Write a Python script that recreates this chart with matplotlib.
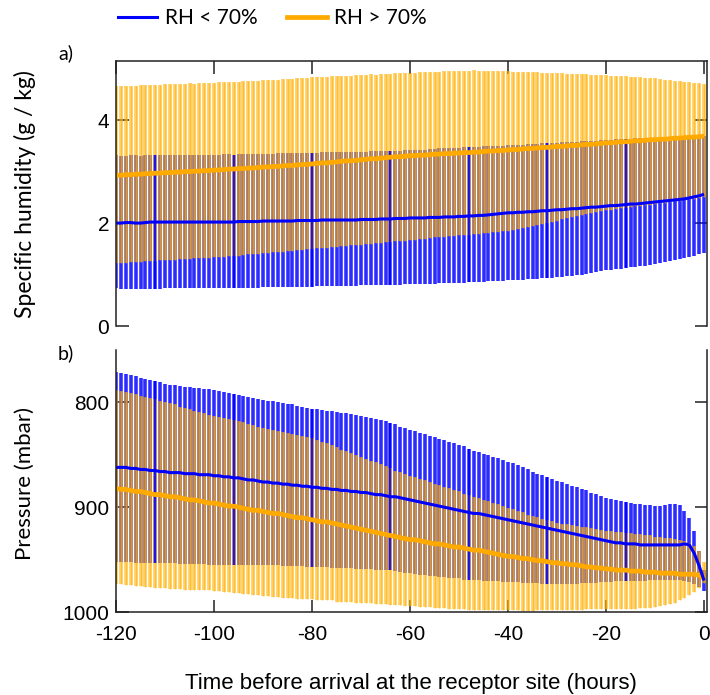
import numpy as np
import matplotlib
matplotlib.use("Agg")
import matplotlib.pyplot as plt
from matplotlib.lines import Line2D

plt.rcParams["axes.unicode_minus"] = False

# ---------------- data ----------------
hours = np.arange(-120, 1)  # time before arrival (h)

# Specific humidity (g/kg), RH < 70 %
q_low_mean = [2.00, 2.00, 2.01, 2.01, 2.00, 2.00, 2.01, 2.02, 2.02, 2.02,
              2.02, 2.02, 2.02, 2.02, 2.02, 2.02, 2.02, 2.02, 2.02, 2.02,
              2.02, 2.02, 2.02, 2.02, 2.02, 2.03, 2.03, 2.03, 2.03, 2.03,
              2.04, 2.04, 2.04, 2.04, 2.04, 2.04, 2.04, 2.05, 2.05, 2.05,
              2.05, 2.05, 2.06, 2.06, 2.06, 2.06, 2.06, 2.06, 2.06, 2.06,
              2.07, 2.07, 2.07, 2.07, 2.08, 2.08, 2.08, 2.09, 2.09, 2.09,
              2.10, 2.10, 2.10, 2.10, 2.11, 2.11, 2.11, 2.12, 2.12, 2.12,
              2.13, 2.13, 2.14, 2.14, 2.15, 2.15, 2.16, 2.17, 2.18, 2.19,
              2.20, 2.20, 2.21, 2.21, 2.22, 2.22, 2.23, 2.24, 2.24, 2.25,
              2.26, 2.26, 2.27, 2.28, 2.28, 2.29, 2.30, 2.31, 2.31, 2.32,
              2.33, 2.34, 2.34, 2.35, 2.36, 2.37, 2.37, 2.38, 2.39, 2.40,
              2.41, 2.42, 2.43, 2.44, 2.45, 2.46, 2.47, 2.49, 2.51, 2.53,
              2.56]
q_low_upper = [3.32, 3.31, 3.31, 3.32, 3.32, 3.31, 3.32, 3.32, 3.33, 3.32,
               3.32, 3.32, 3.33, 3.32, 3.33, 3.33, 3.32, 3.33, 3.33, 3.33,
               3.33, 3.33, 3.34, 3.34, 3.33, 3.34, 3.34, 3.35, 3.34, 3.35,
               3.35, 3.35, 3.35, 3.36, 3.36, 3.36, 3.36, 3.37, 3.37, 3.37,
               3.37, 3.37, 3.38, 3.38, 3.38, 3.38, 3.39, 3.39, 3.39, 3.39,
               3.39, 3.39, 3.40, 3.40, 3.40, 3.40, 3.41, 3.41, 3.41, 3.42,
               3.42, 3.42, 3.43, 3.43, 3.44, 3.44, 3.45, 3.45, 3.46, 3.46,
               3.46, 3.47, 3.47, 3.48, 3.48, 3.49, 3.49, 3.50, 3.50, 3.50,
               3.51, 3.51, 3.52, 3.52, 3.53, 3.54, 3.54, 3.55, 3.55, 3.56,
               3.56, 3.57, 3.57, 3.58, 3.58, 3.59, 3.59, 3.60, 3.60, 3.61,
               3.62, 3.62, 3.63, 3.63, 3.64, 3.64, 3.65, 3.65, 3.65, 3.66,
               3.66, 3.66, 3.67, 3.67, 3.67, 3.68, 3.68, 3.69, 3.69, 3.70,
               3.70]
q_low_lower = [0.73, 0.72, 0.72, 0.72, 0.71, 0.72, 0.72, 0.72, 0.71, 0.72,
               0.73, 0.73, 0.73, 0.73, 0.73, 0.73, 0.73, 0.74, 0.74, 0.74,
               0.74, 0.74, 0.74, 0.74, 0.74, 0.73, 0.74, 0.74, 0.74, 0.74,
               0.75, 0.75, 0.75, 0.75, 0.76, 0.76, 0.75, 0.76, 0.76, 0.75,
               0.76, 0.77, 0.77, 0.77, 0.77, 0.77, 0.78, 0.78, 0.78, 0.78,
               0.79, 0.79, 0.79, 0.79, 0.80, 0.80, 0.80, 0.80, 0.80, 0.81,
               0.81, 0.81, 0.81, 0.82, 0.82, 0.82, 0.83, 0.83, 0.83, 0.84,
               0.84, 0.84, 0.85, 0.85, 0.86, 0.86, 0.87, 0.87, 0.88, 0.88,
               0.89, 0.89, 0.90, 0.90, 0.91, 0.91, 0.92, 0.93, 0.93, 0.94,
               0.95, 0.96, 0.97, 0.98, 0.99, 1.00, 1.01, 1.03, 1.04, 1.06,
               1.08, 1.09, 1.10, 1.11, 1.12, 1.14, 1.15, 1.16, 1.17, 1.19,
               1.21, 1.23, 1.25, 1.27, 1.29, 1.31, 1.33, 1.35, 1.37, 1.39,
               1.42]

# Specific humidity (g/kg), RH > 70 %
q_high_mean = [2.93, 2.93, 2.94, 2.94, 2.95, 2.95, 2.96, 2.96, 2.97, 2.97,
               2.98, 2.98, 2.99, 2.99, 3.00, 3.00, 3.01, 3.01, 3.02, 3.02,
               3.03, 3.03, 3.04, 3.05, 3.05, 3.06, 3.06, 3.07, 3.07, 3.08,
               3.09, 3.09, 3.10, 3.10, 3.11, 3.12, 3.12, 3.13, 3.14, 3.14,
               3.15, 3.16, 3.17, 3.17, 3.18, 3.19, 3.20, 3.21, 3.21, 3.22,
               3.23, 3.24, 3.25, 3.25, 3.26, 3.27, 3.28, 3.29, 3.29, 3.30,
               3.31, 3.31, 3.32, 3.32, 3.33, 3.34, 3.34, 3.35, 3.35, 3.36,
               3.36, 3.37, 3.37, 3.38, 3.38, 3.39, 3.40, 3.40, 3.41, 3.41,
               3.42, 3.43, 3.43, 3.44, 3.45, 3.45, 3.46, 3.47, 3.47, 3.48,
               3.49, 3.49, 3.50, 3.51, 3.51, 3.52, 3.53, 3.53, 3.54, 3.55,
               3.56, 3.56, 3.57, 3.58, 3.58, 3.59, 3.60, 3.60, 3.61, 3.62,
               3.62, 3.63, 3.63, 3.64, 3.65, 3.65, 3.66, 3.67, 3.67, 3.68,
               3.69]
q_high_upper = [4.66, 4.66, 4.66, 4.67, 4.67, 4.68, 4.68, 4.68, 4.69, 4.69,
                4.70, 4.70, 4.70, 4.71, 4.71, 4.72, 4.71, 4.72, 4.72, 4.73,
                4.73, 4.74, 4.74, 4.74, 4.75, 4.75, 4.76, 4.76, 4.77, 4.77,
                4.78, 4.78, 4.79, 4.79, 4.80, 4.80, 4.80, 4.81, 4.81, 4.82,
                4.83, 4.83, 4.83, 4.84, 4.85, 4.85, 4.86, 4.86, 4.86, 4.87,
                4.87, 4.88, 4.89, 4.88, 4.89, 4.90, 4.90, 4.91, 4.91, 4.92,
                4.92, 4.92, 4.93, 4.93, 4.94, 4.94, 4.94, 4.95, 4.96, 4.96,
                4.96, 4.96, 4.96, 4.97, 4.96, 4.96, 4.96, 4.96, 4.95, 4.95,
                4.95, 4.94, 4.94, 4.94, 4.93, 4.93, 4.93, 4.92, 4.92, 4.92,
                4.91, 4.91, 4.90, 4.90, 4.90, 4.89, 4.89, 4.88, 4.88, 4.88,
                4.87, 4.86, 4.86, 4.85, 4.85, 4.84, 4.83, 4.83, 4.82, 4.82,
                4.81, 4.80, 4.79, 4.78, 4.77, 4.76, 4.75, 4.74, 4.73, 4.72,
                4.71]
q_high_lower = [1.22, 1.23, 1.23, 1.24, 1.25, 1.25, 1.26, 1.27, 1.27, 1.28,
                1.28, 1.29, 1.29, 1.30, 1.31, 1.31, 1.32, 1.32, 1.33, 1.33,
                1.34, 1.35, 1.35, 1.36, 1.37, 1.37, 1.38, 1.39, 1.40, 1.40,
                1.41, 1.42, 1.43, 1.44, 1.44, 1.45, 1.46, 1.47, 1.48, 1.49,
                1.50, 1.51, 1.52, 1.52, 1.53, 1.54, 1.55, 1.56, 1.57, 1.58,
                1.58, 1.59, 1.60, 1.61, 1.62, 1.63, 1.64, 1.65, 1.65, 1.66,
                1.67, 1.68, 1.69, 1.70, 1.71, 1.72, 1.73, 1.73, 1.74, 1.75,
                1.76, 1.77, 1.77, 1.78, 1.79, 1.80, 1.81, 1.82, 1.83, 1.84,
                1.85, 1.87, 1.89, 1.91, 1.93, 1.95, 1.97, 1.99, 2.01, 2.03,
                2.05, 2.07, 2.09, 2.11, 2.13, 2.15, 2.17, 2.19, 2.21, 2.23,
                2.25, 2.26, 2.28, 2.29, 2.30, 2.31, 2.33, 2.34, 2.35, 2.36,
                2.38, 2.39, 2.40, 2.41, 2.42, 2.43, 2.45, 2.46, 2.47, 2.48,
                2.50]

# Pressure (mbar), RH < 70 %
p_low_mean = [862, 862, 862, 863, 863, 864, 864, 865, 865, 866,
              866, 867, 867, 867, 868, 868, 868, 869, 869, 869,
              870, 870, 871, 871, 872, 872, 873, 874, 874, 875,
              876, 876, 877, 877, 878, 878, 879, 879, 880, 880,
              881, 881, 882, 882, 883, 883, 884, 884, 885, 885,
              886, 886, 887, 888, 888, 889, 890, 890, 891, 892,
              893, 894, 895, 896, 897, 898, 899, 900, 901, 902,
              903, 904, 905, 906, 906, 907, 908, 909, 910, 911,
              912, 913, 914, 915, 916, 917, 918, 919, 920, 921,
              922, 923, 924, 925, 926, 927, 928, 929, 930, 931,
              932, 933, 934, 934, 935, 935, 935, 936, 936, 936,
              936, 936, 936, 936, 936, 936, 935, 936, 944, 956,
              970]
p_low_upper = [771, 772, 773, 774, 775, 777, 778, 779, 780, 781,
               782, 783, 783, 784, 785, 785, 786, 786, 787, 787,
               788, 789, 790, 791, 792, 793, 794, 795, 796, 797,
               798, 799, 799, 800, 801, 802, 802, 803, 804, 805,
               806, 806, 807, 808, 808, 809, 810, 810, 811, 812,
               813, 814, 815, 816, 817, 818, 820, 821, 823, 824,
               826, 827, 829, 830, 832, 833, 835, 836, 838, 839,
               841, 842, 844, 846, 847, 849, 850, 852, 853, 855,
               857, 858, 860, 862, 864, 866, 868, 869, 871, 873,
               875, 876, 878, 880, 881, 883, 884, 886, 887, 889,
               891, 892, 893, 894, 895, 896, 897, 897, 898, 898,
               899, 899, 898, 897, 897, 898, 904, 910, 923, 942,
               960]
p_low_lower = [952, 952, 952, 952, 953, 953, 953, 953, 953, 953,
               953, 953, 953, 954, 954, 954, 954, 954, 954, 955,
               955, 955, 955, 955, 955, 955, 955, 955, 955, 955,
               955, 955, 955, 955, 956, 956, 956, 956, 956, 957,
               957, 957, 957, 957, 958, 958, 958, 958, 958, 959,
               959, 959, 959, 960, 960, 960, 960, 961, 962, 963,
               963, 964, 965, 965, 966, 966, 967, 967, 968, 968,
               968, 969, 969, 969, 969, 970, 970, 970, 970, 971,
               971, 971, 971, 972, 972, 972, 972, 973, 973, 973,
               973, 973, 973, 973, 973, 972, 972, 972, 972, 971,
               971, 971, 970, 970, 970, 970, 970, 970, 970, 969,
               969, 969, 969, 969, 969, 969, 970, 971, 973, 976,
               980]

# Pressure (mbar), RH > 70 %
p_high_mean = [882, 883, 883, 884, 885, 885, 886, 887, 888, 888,
               889, 890, 890, 891, 892, 893, 893, 894, 895, 896,
               896, 897, 898, 899, 899, 900, 901, 902, 903, 903,
               904, 905, 906, 906, 907, 908, 909, 910, 910, 911,
               912, 913, 914, 914, 915, 916, 917, 918, 919, 920,
               921, 922, 923, 924, 925, 926, 927, 928, 929, 930,
               931, 931, 932, 933, 934, 935, 935, 936, 937, 938,
               938, 939, 940, 941, 941, 942, 943, 944, 945, 946,
               947, 947, 948, 949, 949, 950, 951, 951, 952, 953,
               953, 954, 954, 955, 955, 956, 957, 957, 958, 958,
               959, 959, 960, 960, 960, 961, 961, 961, 962, 962,
               962, 963, 963, 963, 963, 964, 964, 964, 964, 965,
               968]
p_high_upper = [788, 789, 790, 791, 792, 794, 795, 796, 797, 799,
                800, 801, 802, 804, 805, 806, 808, 809, 810, 812,
                813, 814, 815, 816, 817, 818, 819, 821, 822, 823,
                824, 825, 826, 827, 828, 829, 830, 831, 832, 833,
                834, 836, 838, 839, 841, 843, 845, 846, 848, 850,
                852, 854, 856, 857, 859, 861, 863, 865, 866, 868,
                870, 871, 873, 874, 876, 878, 879, 881, 882, 884,
                885, 887, 888, 890, 891, 893, 894, 896, 897, 899,
                901, 902, 904, 905, 907, 908, 909, 911, 912, 913,
                915, 916, 916, 917, 918, 919, 919, 920, 921, 922,
                923, 923, 924, 924, 925, 925, 926, 926, 927, 927,
                928, 928, 929, 929, 930, 931, 932, 934, 937, 942,
                952]
p_high_lower = [973, 973, 974, 974, 975, 975, 976, 976, 977, 977,
                977, 978, 978, 978, 979, 979, 979, 979, 979, 979,
                980, 980, 981, 981, 982, 982, 983, 983, 984, 984,
                985, 985, 986, 986, 987, 987, 987, 988, 988, 988,
                988, 989, 989, 989, 989, 990, 990, 990, 990, 991,
                991, 991, 991, 992, 992, 992, 993, 993, 993, 994,
                994, 994, 995, 995, 995, 996, 996, 996, 997, 997,
                997, 997, 998, 998, 998, 998, 998, 998, 998, 998,
                998, 998, 998, 999, 999, 999, 998, 998, 998, 998,
                998, 998, 998, 998, 998, 998, 997, 997, 997, 997,
                997, 997, 997, 997, 997, 997, 997, 996, 996, 996,
                995, 994, 993, 992, 991, 989, 987, 984, 981, 977,
                972]

labels = ["RH < 70%", "RH > 70%"]
x_ticks = [-120, -100, -80, -60, -40, -20, 0]
q_ticks = [0, 2, 4]
p_ticks = [800, 900, 1000]

# ---------------- style ----------------
BLUE = "#0000ff"
BLUE_BAR = "#0000ff"
ORANGE = "#ffaa00"
ORANGE_BAR = "#ffb000"
TICK_FONT = "Liberation Sans"
LABEL_FONT = "Lato"

fig = plt.figure(figsize=(7.10, 6.95), dpi=100)
W, H = 710.0, 695.0
ax1 = fig.add_axes([116 / W, 1 - 326 / H, 591 / W, 265 / H])
ax2 = fig.add_axes([116 / W, 1 - 612 / H, 591 / W, 262 / H])

hrs = np.asarray(hours)
art = (hrs % 16 == 0) & (hrs < 0) & (hrs > -120)


def draw(ax, lo_l, lo_u, lo_m, hi_l, hi_u, hi_m):
    # RH < 70 % bars: soft halo + core
    ax.vlines(hrs, lo_l, lo_u, colors=BLUE_BAR, linewidth=2.8, alpha=0.68, zorder=1)
    ax.vlines(hrs, lo_l, lo_u, colors=BLUE_BAR, linewidth=1.1, alpha=0.6, zorder=1.1)
    # RH > 70 % bars: soft halo + core
    ax.vlines(hrs, hi_l, hi_u, colors=ORANGE_BAR, linewidth=2.8, alpha=0.55, zorder=2)
    ax.vlines(hrs, hi_l, hi_u, colors=ORANGE_BAR, linewidth=1.0, alpha=0.6, zorder=2.1)
    ax.vlines(hrs[art], np.asarray(lo_l)[art], np.asarray(lo_u)[art],
              colors=BLUE, linewidth=1.2, zorder=3)
    l2, = ax.plot(hrs, hi_m, color=ORANGE, lw=3.4, zorder=4, solid_capstyle="butt")
    l1, = ax.plot(hrs, lo_m, color=BLUE, lw=2.2, zorder=5, solid_capstyle="butt")
    return l1, l2


draw(ax1, q_low_lower, q_low_upper, q_low_mean,
     q_high_lower, q_high_upper, q_high_mean)
draw(ax2, p_low_upper, p_low_lower, p_low_mean,
     p_high_upper, p_high_lower, p_high_mean)

for ax in (ax1, ax2):
    ax.set_xlim(-120, 0.6)
    ax.set_xticks(x_ticks)
    ax.set_axisbelow(True)
    for s in ax.spines.values():
        s.set_linewidth(1.1)
        s.set_color("#222222")
        s.set_zorder(6)
    ax.tick_params(direction="in", length=9, width=1.1, color="#222222",
                   labelsize=15, pad=5)

ax1.set_ylim(0, 5.15)
ax1.set_yticks(q_ticks)
ax1.spines["bottom"].set_visible(False)
ax1.tick_params(axis="x", top=True, bottom=False, labelbottom=False)
ax1.tick_params(axis="y", left=True, right=True)

ax2.set_ylim(1000, 750)
ax2.set_yticks(p_ticks)
ax2.spines["top"].set_visible(False)
ax2.tick_params(axis="x", top=False, bottom=True, pad=9)
ax2.tick_params(axis="y", left=True, right=True)
for lab in ax1.get_xticklabels() + ax1.get_yticklabels() + ax2.get_xticklabels() + ax2.get_yticklabels():
    lab.set_fontfamily(TICK_FONT)

fig.text(25 / W, 1 - 194 / H, "Specific humidity (g / kg)", rotation=90,
         ha="center", va="center", fontsize=16.5, family=LABEL_FONT)
fig.text(25 / W, 1 - 484 / H, "Pressure (mbar)", rotation=90,
         ha="center", va="center", fontsize=16, family=LABEL_FONT)
fig.text(411 / W, 1 - 683 / H, "Time before arrival at the receptor site (hours)",
         ha="center", va="center", fontsize=16, family=TICK_FONT)
fig.text(66 / W, 1 - 53 / H, "a)", ha="center", va="center", fontsize=14, family=LABEL_FONT)
fig.text(66 / W, 1 - 353 / H, "b)", ha="center", va="center", fontsize=14, family=LABEL_FONT)

leg_handles = [Line2D([], [], color=BLUE, lw=2.2), Line2D([], [], color=ORANGE, lw=3.4)]
fig.legend(leg_handles, labels, loc="center left", bbox_to_anchor=(99 / W, 1 - 18 / H),
           ncol=2, frameon=False, handlelength=1.9, handletextpad=0.35,
           columnspacing=1.45, prop={"family": LABEL_FONT, "size": 15})

fig.savefig("out.png", dpi=100)
